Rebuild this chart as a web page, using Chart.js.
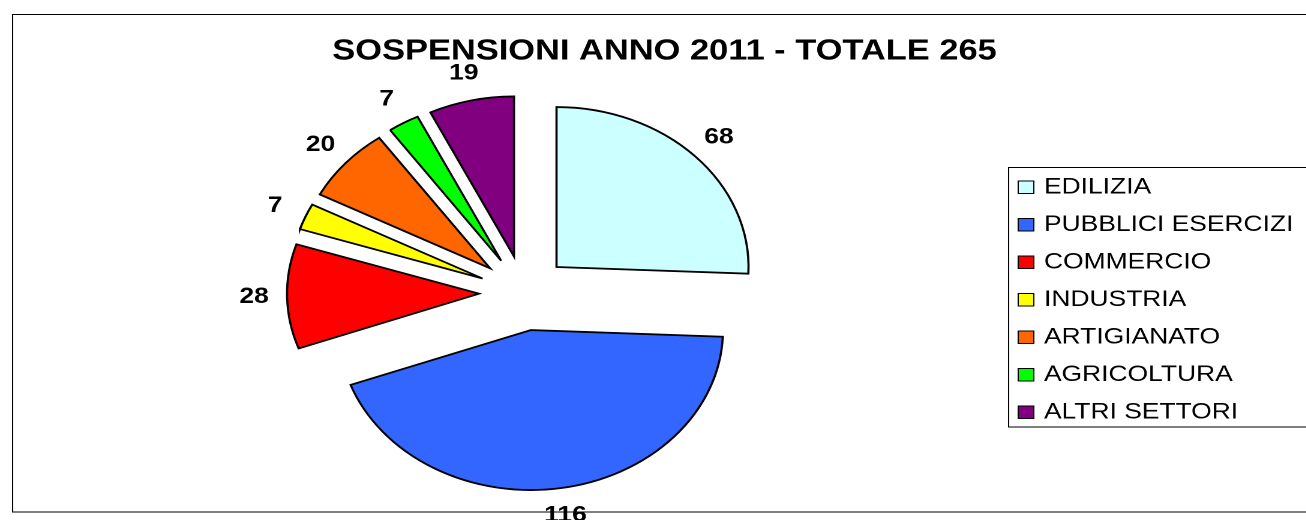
<!DOCTYPE html>
<html><head><meta charset="utf-8">
<script src="https://cdn.jsdelivr.net/npm/chart.js@4"></script>
<style>
html,body{margin:0;padding:0;background:#fff;overflow:hidden;}
#wrap{width:1306px;height:520px;position:relative;overflow:hidden;background:#fff;}
#c{position:absolute;left:0;top:0;transform:scaleX(1.2);transform-origin:0 0;}
</style></head><body>
<div id="wrap"><canvas id="c" width="1088" height="520"></canvas></div>
<script>
const TITLE = 'SOSPENSIONI ANNO 2011 - TOTALE 265';
const categories = ['EDILIZIA','PUBBLICI ESERCIZI','COMMERCIO','INDUSTRIA','ARTIGIANATO','AGRICOLTURA','ALTRI SETTORI'];
const values = [68, 116, 28, 7, 20, 7, 19];
const colors = ['#CCFFFF','#3366FF','#FF0000','#FFFF00','#FF6600','#00FF00','#800080'];

const FONT = "'Liberation Sans', Arial, sans-serif";
const EXPLODE = 37.5;
const LABEL_DIST = 225;

const framePlugin = {
  id: 'frame',
  beforeDraw(chart) {
    const ctx = chart.ctx;
    ctx.save();
    ctx.fillStyle = '#fff';
    ctx.fillRect(0, 0, chart.width, chart.height);
    ctx.strokeStyle = '#000';
    ctx.lineWidth = 1;
    ctx.strokeRect(10.5, 14.5, 1200, 497.5);
    ctx.restore();
  }
};

const explodePlugin = {
  id: 'explode',
  beforeDatasetDraw(chart, args) {
    const ctx = chart.ctx;
    args.meta.data.forEach(arc => {
      const mid = (arc.startAngle + arc.endAngle) / 2;
      ctx.save();
      ctx.translate(Math.cos(mid) * EXPLODE, Math.sin(mid) * EXPLODE);
      arc.draw(ctx, chart.chartArea);
      ctx.restore();
    });
    return false;
  }
};

const decorPlugin = {
  id: 'decor',
  afterDraw(chart) {
    const ctx = chart.ctx;
    const meta = chart.getDatasetMeta(0);
    const ds = chart.data.datasets[0];
    ctx.save();
    // data labels
    ctx.fillStyle = '#000';
    ctx.font = 'bold 22px ' + FONT;
    ctx.textAlign = 'center';
    ctx.textBaseline = 'middle';
    meta.data.forEach((arc, i) => {
      const mid = (arc.startAngle + arc.endAngle) / 2;
      const x = arc.x + Math.cos(mid) * LABEL_DIST;
      const y = arc.y + Math.sin(mid) * LABEL_DIST;
      ctx.fillText(String(ds.data[i]), x, y);
    });
    // title
    ctx.font = 'bold 28.7px ' + FONT;
    ctx.textBaseline = 'alphabetic';
    ctx.fillText(TITLE, 553.75, 59.5);
    // legend box
    ctx.strokeStyle = '#000';
    ctx.lineWidth = 1;
    ctx.strokeRect(840.5, 167.5, 400, 259.5);
    ctx.font = '22px ' + FONT;
    ctx.textAlign = 'left';
    chart.data.labels.forEach((lab, i) => {
      const cy = 187 + 37.5 * i;
      ctx.fillStyle = ds.backgroundColor[i];
      ctx.fillRect(848.5, cy - 6, 13, 12.5);
      ctx.strokeStyle = '#000';
      ctx.strokeRect(848.5, cy - 6, 13, 12.5);
      ctx.fillStyle = '#000';
      ctx.fillText(lab, 870, cy + 6.5);
    });
    ctx.restore();
  }
};

new Chart(document.getElementById('c'), {
  type: 'pie',
  data: {
    labels: categories,
    datasets: [{
      data: values,
      backgroundColor: colors,
      borderColor: '#000',
      borderWidth: 1.8,
      borderJoinStyle: 'miter',
      radius: 160
    }]
  },
  options: {
    responsive: false,
    devicePixelRatio: 2,
    animation: false,
    radius: 160,
    layout: { padding: { left: 236.7, right: 451.3, top: 93, bottom: 27 } },
    plugins: { legend: { display: false }, title: { display: false }, tooltip: { enabled: false } },
    events: []
  },
  plugins: [framePlugin, explodePlugin, decorPlugin]
});
</script>
</body></html>
